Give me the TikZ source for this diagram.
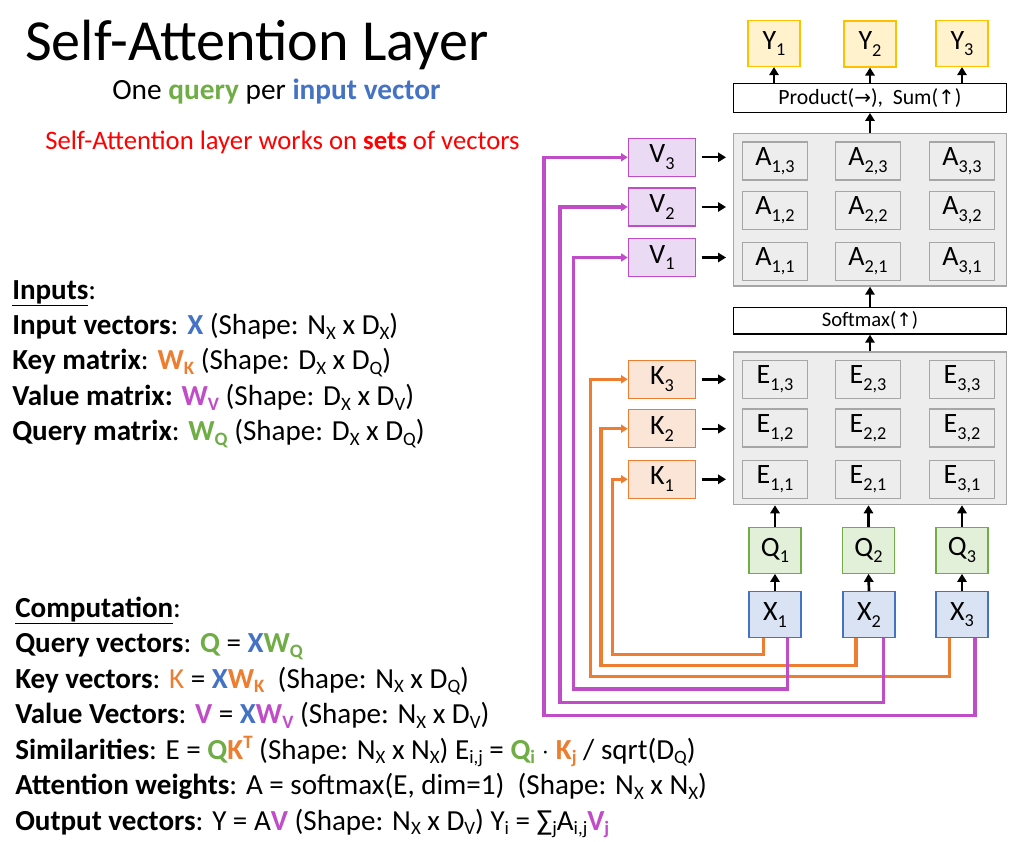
\documentclass[tikz,border=0pt]{standalone}
\usepackage{fontspec}
\setmainfont{Carlito}
\newfontfamily\arrowfont{DejaVu Sans}
\usetikzlibrary{arrows.meta,calc}
\definecolor{cblue}{HTML}{4472C4}
\definecolor{cbluef}{HTML}{DAE3F3}
\definecolor{cgreen}{HTML}{70AD47}
\definecolor{cgreenf}{HTML}{E2F0D9}
\definecolor{corange}{HTML}{ED7D31}
\definecolor{corangef}{HTML}{FBE5D6}
\definecolor{cpurple}{HTML}{C04CC8}
\definecolor{cpurplef}{HTML}{EBDAF4}
\definecolor{cyel}{HTML}{FFC000}
\definecolor{cyelf}{HTML}{FFF2CC}
\definecolor{cgrayb}{HTML}{A6A6A6}
\definecolor{cgrayf}{HTML}{EDEDED}
\definecolor{cred}{HTML}{FF0000}
\newcommand\sbx[1]{\raisebox{-0.35ex}{\scalebox{0.65}{#1}}}
\newcommand\sbd[1]{\raisebox{-0.5ex}{\scalebox{0.65}{#1}}}
\newcommand\spx[1]{\raisebox{0.75ex}{\scalebox{0.65}{#1}}}
\newcommand\diagfont{\fontsize{21}{25}\selectfont}
\newcommand\bodyfont{\fontsize{21.8}{26}\selectfont}
\newcommand\cb[2]{{\bfseries\color{#1}#2}}
\begin{document}
\begin{tikzpicture}[x=0.75pt,y=-0.75pt,
  box/.style={draw, line width=0.9pt, inner sep=0pt, font=\diagfont},
  sqbox/.style={box, minimum width=39pt, minimum height=34.5pt},
  ybox/.style={sqbox, draw=cyel, fill=cyelf},
  qbox/.style={sqbox, draw=cgreen, fill=cgreenf},
  xbox/.style={sqbox, draw=cblue, fill=cbluef},
  vkbox/.style={box, minimum width=50.5pt, minimum height=28.5pt},
  vbox/.style={vkbox, draw=cpurple, fill=cpurplef},
  kbox/.style={vkbox, draw=corange, fill=corangef},
  cell/.style={box, draw=cgrayb, fill=cgrayf, minimum width=48.75pt, minimum height=28.5pt},
  bigbox/.style={draw=cgrayb, fill=cgrayf, line width=1pt, minimum width=205pt, minimum height=114.5pt, inner sep=0pt},
  opbox/.style={draw=black, fill=white, line width=1pt, minimum width=205pt, inner sep=0pt},
  arr/.style={line width=2pt, -{Triangle[length=6pt,width=7pt]}},
  harr/.style={line width=1.8pt, -{Triangle[length=6pt,width=7pt]}, shorten <=4pt, shorten >=5pt},
  oline/.style={draw=corange, line width=2.3pt, -{Triangle[length=5pt,width=6pt]}},
  pline/.style={draw=cpurple, line width=2.3pt, -{Triangle[length=5pt,width=6pt]}},
  txt/.style={anchor=base west, inner sep=0pt, font=\bodyfont}
]
\useasboundingbox (0,0) rectangle (1022,842);

% ---------- left texts ----------
\node[anchor=base west, inner sep=0pt, font=\fontsize{43.6}{50}\selectfont] (title) at (25,61) {Self-Attention Layer};
\node[anchor=base west, inner sep=0pt, font=\fontsize{22}{26}\selectfont] (sub) at (112,99.5)
  {One \cb{cgreen}{query} per \cb{cblue}{input vector}};
\node[anchor=base west, inner sep=0pt, font=\fontsize{20}{24}\selectfont, text=cred] (red) at (45,149.5)
  {Self-Attention layer works on \textbf{sets} of vectors};

\node[txt] (in0) at (12,299.3) {\underline{\textbf{Inputs}}:};
\node[txt] (in1) at (12,334.6) {\textbf{Input vectors}: \cb{cblue}{X} (Shape: N\sbx{X} x D\sbx{X})};
\node[txt] (in2) at (12,369.9) {\textbf{Key matrix}: \cb{corange}{W\sbx{K}} (Shape: D\sbx{X} x D\sbx{Q})};
\node[txt] (in3) at (12,405.2) {\textbf{Value matrix:} \cb{cpurple}{W\sbx{V}} (Shape: D\sbx{X} x D\sbx{V})};
\node[txt] (in4) at (12,440.5) {\textbf{Query matrix}: \cb{cgreen}{W\sbx{Q}} (Shape: D\sbx{X} x D\sbx{Q})};

\node[txt] (c0) at (15,617) {\underline{\textbf{Computation}}:};
\node[txt] (c1) at (15,652.5) {\textbf{Query vectors}: \cb{cgreen}{Q} = \cb{cblue}{X}\cb{cgreen}{W\sbx{Q}}};
\node[txt] (c2) at (15,688) {\textbf{Key vectors}: {\color{corange}K} = \cb{cblue}{X}\cb{corange}{W\sbx{K}}\ \ (Shape: N\sbx{X} x D\sbx{Q})};
\node[txt] (c3) at (15,723.5) {\textbf{Value Vectors}: \cb{cpurple}{V} = \cb{cblue}{X}\cb{cpurple}{W\sbx{V}} (Shape: N\sbx{X} x D\sbx{V})};
\node[txt] (c4) at (15,759) {\textbf{Similarities}: E = \cb{cgreen}{Q}\cb{corange}{K\spx{T}} (Shape: N\sbx{X} x N\sbx{X}) E\sbx{i,j} = \cb{cgreen}{Q\sbx{i}} $\cdot$ \cb{corange}{K\sbx{j}} / sqrt(D\sbx{Q})};
\node[txt] (c5) at (15,794.5) {\textbf{Attention weights}: A = softmax(E, dim=1)\ \ (Shape: N\sbx{X} x N\sbx{X})};
\node[txt] (c6) at (15,830) {\textbf{Output vectors}: Y = A\cb{cpurple}{V} (Shape: N\sbx{X} x D\sbx{V}) Y\sbx{i} = ∑\sbx{j}A\sbx{i,j}\cb{cpurple}{V\sbx{j}}};

% ---------- right diagram ----------
% outputs
\node[ybox] (Y1) at (774,43.5) {Y\sbd{1}};
\node[ybox] (Y2) at (870,44) {Y\sbd{2}};
\node[ybox] (Y3) at (962,43.5) {Y\sbd{3}};
\node[opbox, minimum height=21.75pt, font=\fontsize{16.3}{19}\selectfont] (prod) at (870,97.8)
  {Product({\arrowfont\fontsize{15}{17}\selectfont →}),\ \ Sum({\arrowfont\fontsize{15}{17}\selectfont ↑})};

% attention
\node[bigbox] (Abox) at (870,209.7) {};
\foreach \i/\x in {1/775,2/868,3/962}{
  \foreach \j/\y in {1/261.3,2/210.5,3/161}{
    \node[cell] (A\i\j) at (\x,\y) {A\sbd{\i,\j}};
  }
}
\node[opbox, minimum height=20pt, font=\fontsize{15.5}{18}\selectfont] (soft) at (870,320.7)
  {Softmax({\arrowfont\fontsize{14}{16}\selectfont ↑})};

% similarities
\node[bigbox] (Ebox) at (870,428.3) {};
\foreach \i/\x in {1/775,2/868,3/962}{
  \foreach \j/\y in {1/479.3,2/428,3/379.3}{
    \node[cell] (E\i\j) at (\x,\y) {E\sbd{\i,\j}};
  }
}

% values and keys
\node[vbox] (V3) at (662,157.3) {V\sbd{3}};
\node[vbox] (V2) at (662,207) {V\sbd{2}};
\node[vbox] (V1) at (662,257.5) {V\sbd{1}};
\node[kbox] (K3) at (662,379.3) {K\sbd{3}};
\node[kbox] (K2) at (662,428.7) {K\sbd{2}};
\node[kbox] (K1) at (662,479.3) {K\sbd{1}};

% queries and inputs
\node[qbox] (Q1) at (775,550.3) {Q\sbd{1}};
\node[qbox] (Q2) at (868.5,550.3) {Q\sbd{2}};
\node[qbox] (Q3) at (962,550.3) {Q\sbd{3}};
\node[xbox] (X1) at (775,614.7) {X\sbd{1}};
\node[xbox] (X2) at (869,614.7) {X\sbd{2}};
\node[xbox] (X3) at (962,614.7) {X\sbd{3}};

% black arrows
\foreach \n in {1,2,3}{
  \draw[arr] (prod.north -| Y\n) -- (Y\n.south);
  \draw[arr] (X\n.north) -- (Q\n.south);
  \draw[arr] (Q\n.north) -- (Q\n.north |- Ebox.south);
  \draw[harr] (V\n.east) -- (V\n.east -| Abox.west);
  \draw[harr] (K\n.east) -- (K\n.east -| Ebox.west);
}
\draw[arr] (Abox.north) -- (prod.south);
\draw[arr] (soft.north) -- (Abox.south);
\draw[arr] (Ebox.north) -- (soft.south);

% coloured routes
\draw[oline] ($(X1.south)+(-11.5,0)$) |- (612.3,654.3) |- (K1.west);
\draw[oline] ($(X2.south)+(-13,0)$) |- (601,665.7) |- (K2.west);
\draw[oline] ($(X3.south)+(-12.7,0)$) |- (590.3,676.7) |- (K3.west);
\draw[pline] ($(X1.south)+(12.2,0)$) |- (573.3,689) |- (V1.west);
\draw[pline] ($(X2.south)+(14.5,0)$) |- (560,702.3) |- (V2.west);
\draw[pline] ($(X3.south)+(13,0)$) |- (544,715.7) |- (V3.west);
\end{tikzpicture}
\end{document}
